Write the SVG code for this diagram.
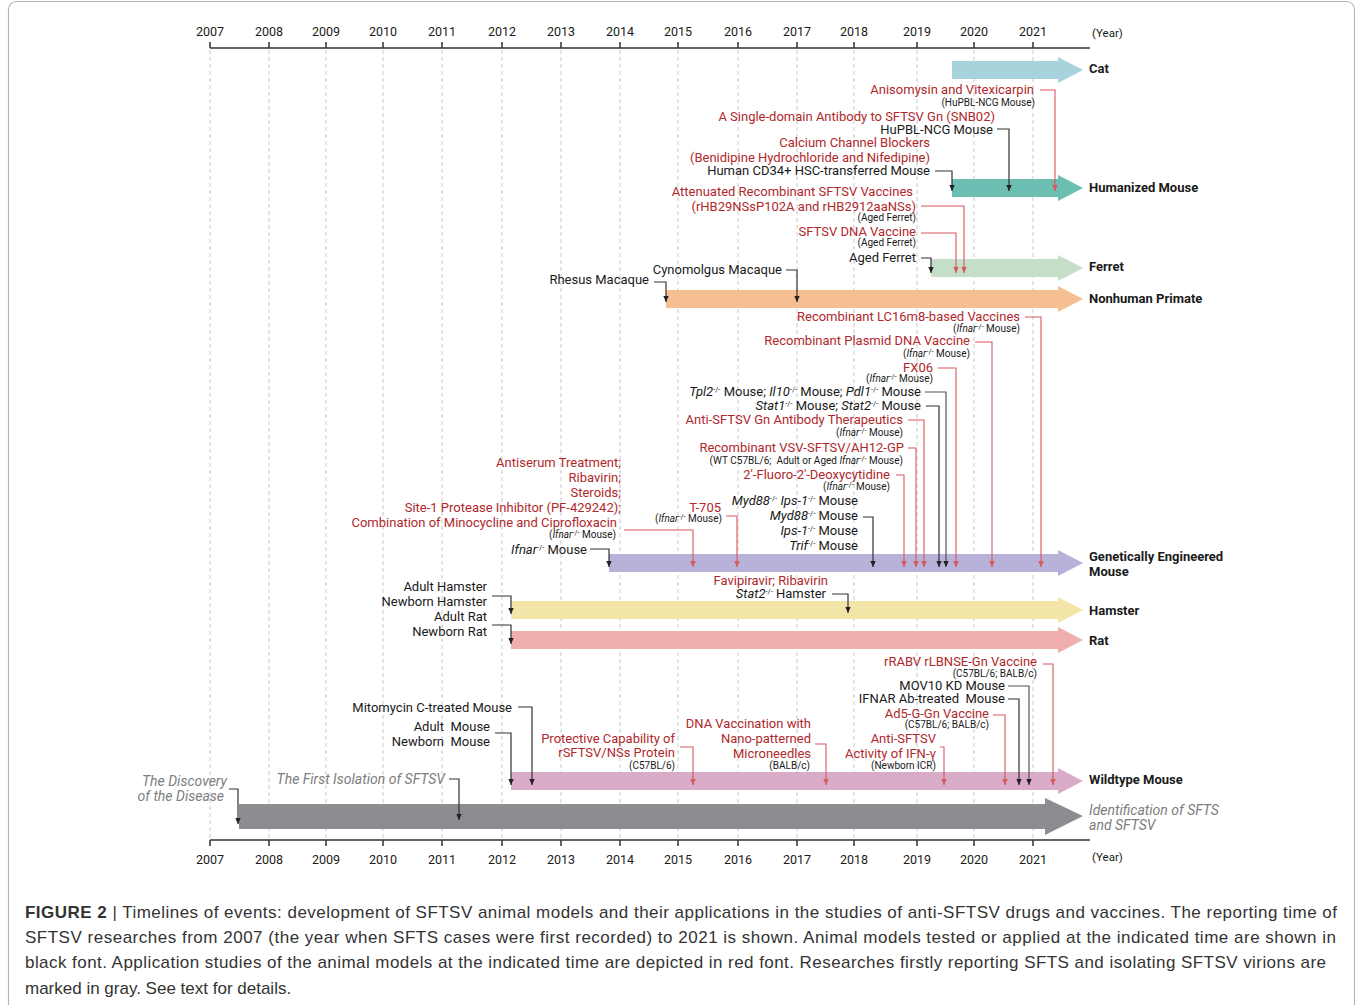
<svg xmlns="http://www.w3.org/2000/svg" width="1358" height="1005" viewBox="0 0 1358 1005">
<style>
.t{font-family:Roboto,'Liberation Sans',sans-serif;font-size:13px;fill:#1a1a1a}
.r{fill:#b0282c}
.s{font-size:10px}
.e{text-anchor:end}
.m{text-anchor:middle}
.y{font-size:12.5px}
.i{font-style:italic}
.g{fill:#7d7d7d;font-style:italic;font-size:14px}
.b{font-weight:bold}
.sup{font-size:7.5px}
.cr{fill:none;stroke:#d8585c;stroke-width:1.1;marker-end:url(#mr)}
.ck{fill:none;stroke:#333;stroke-width:1.2;marker-end:url(#mk)}
.grid{stroke:#c8c8c8;stroke-width:1;stroke-dasharray:4 3}
.ax{stroke:#333;stroke-width:1.5;fill:none}
.cap{font-family:'Liberation Sans',Arial,sans-serif;font-size:17px;fill:#333}
</style>
<defs>
<marker id="mr" viewBox="0 0 6 6" refX="6" refY="3" markerWidth="6" markerHeight="6" markerUnits="userSpaceOnUse" orient="auto"><path d="M0,0.3 L6,3 L0,5.7z" fill="#d8585c"/></marker>
<marker id="mk" viewBox="0 0 6 6" refX="6" refY="3" markerWidth="6" markerHeight="6" markerUnits="userSpaceOnUse" orient="auto"><path d="M0,0.3 L6,3 L0,5.7z" fill="#222"/></marker>
</defs>
<rect x="0" y="0" width="1358" height="1005" fill="#fff"/>
<rect x="8.5" y="1.5" width="1346" height="1015" rx="8" fill="none" stroke="#b5b5b5" stroke-width="1.2"/>

<g id="grid">
<line class="grid" x1="210" y1="50" x2="210" y2="838"/>
<line class="grid" x1="269" y1="50" x2="269" y2="838"/>
<line class="grid" x1="326" y1="50" x2="326" y2="838"/>
<line class="grid" x1="383" y1="50" x2="383" y2="838"/>
<line class="grid" x1="442" y1="50" x2="442" y2="838"/>
<line class="grid" x1="502" y1="50" x2="502" y2="838"/>
<line class="grid" x1="561" y1="50" x2="561" y2="838"/>
<line class="grid" x1="620" y1="50" x2="620" y2="838"/>
<line class="grid" x1="678" y1="50" x2="678" y2="838"/>
<line class="grid" x1="738" y1="50" x2="738" y2="838"/>
<line class="grid" x1="797" y1="50" x2="797" y2="838"/>
<line class="grid" x1="854" y1="50" x2="854" y2="838"/>
<line class="grid" x1="917" y1="50" x2="917" y2="838"/>
<line class="grid" x1="974" y1="50" x2="974" y2="838"/>
<line class="grid" x1="1033" y1="50" x2="1033" y2="838"/>
</g>

<g id="axis-top">
<path class="ax" d="M210,48 H1090 M210,42 V48 M269,42 V48 M326,42 V48 M383,42 V48 M442,42 V48 M502,42 V48 M561,42 V48 M620,42 V48 M678,42 V48 M738,42 V48 M797,42 V48 M854,42 V48 M917,42 V48 M974,42 V48 M1033,42 V48"/>
<g class="t m y">
<text x="210" y="36">2007</text><text x="269" y="36">2008</text><text x="326" y="36">2009</text><text x="383" y="36">2010</text><text x="442" y="36">2011</text><text x="502" y="36">2012</text><text x="561" y="36">2013</text><text x="620" y="36">2014</text><text x="678" y="36">2015</text><text x="738" y="36">2016</text><text x="797" y="36">2017</text><text x="854" y="36">2018</text><text x="917" y="36">2019</text><text x="974" y="36">2020</text><text x="1033" y="36">2021</text>
</g>
<text class="t" x="1092" y="37" style="font-size:11.5px">(Year)</text>
</g>

<g id="axis-bottom">
<path class="ax" d="M210,840 H1090 M210,840 V846 M269,840 V846 M326,840 V846 M383,840 V846 M442,840 V846 M502,840 V846 M561,840 V846 M620,840 V846 M678,840 V846 M738,840 V846 M797,840 V846 M854,840 V846 M917,840 V846 M974,840 V846 M1033,840 V846"/>
<g class="t m y">
<text x="210" y="864">2007</text><text x="269" y="864">2008</text><text x="326" y="864">2009</text><text x="383" y="864">2010</text><text x="442" y="864">2011</text><text x="502" y="864">2012</text><text x="561" y="864">2013</text><text x="620" y="864">2014</text><text x="678" y="864">2015</text><text x="738" y="864">2016</text><text x="797" y="864">2017</text><text x="854" y="864">2018</text><text x="917" y="864">2019</text><text x="974" y="864">2020</text><text x="1033" y="864">2021</text>
</g>
<text class="t" x="1092" y="861" style="font-size:11.5px">(Year)</text>
</g>

<g id="band-cat"><polygon points="952,61 1058,61 1058,57 1083,70 1058,83 1058,79 952,79" fill="#a9d3dc"/><text class="t b" x="1089" y="73">Cat</text></g>
<g id="band-humanized"><polygon points="952,179 1058,179 1058,175 1083,188 1058,201 1058,197 952,197" fill="#6cbdb2"/><text class="t b" x="1089" y="192">Humanized Mouse</text></g>
<g id="band-ferret"><polygon points="931,259 1058,259 1058,255 1083,268 1058,281 1058,277 931,277" fill="#c5dec7"/><text class="t b" x="1089" y="271">Ferret</text></g>
<g id="band-nhp"><polygon points="666,290 1058,290 1058,286 1083,299 1058,312 1058,308 666,308" fill="#f5bf91"/><text class="t b" x="1089" y="303">Nonhuman Primate</text></g>
<g id="band-gem"><polygon points="609,554 1058,554 1058,550 1083,563 1058,576 1058,572 609,572" fill="#b8b1d9"/><text class="t b" x="1089" y="561">Genetically Engineered</text><text class="t b" x="1089" y="576">Mouse</text></g>
<g id="band-hamster"><polygon points="511,601 1058,601 1058,597 1083,610 1058,623 1058,619 511,619" fill="#f3e4a7"/><text class="t b" x="1089" y="615">Hamster</text></g>
<g id="band-rat"><polygon points="511,631 1058,631 1058,627 1083,640 1058,653 1058,649 511,649" fill="#eeaeae"/><text class="t b" x="1089" y="645">Rat</text></g>
<g id="band-wildtype"><polygon points="511,772 1058,772 1058,768 1083,781 1058,794 1058,790 511,790" fill="#d8abc9"/><text class="t b" x="1089" y="784">Wildtype Mouse</text></g>
<g id="band-sfts"><polygon points="239,804 1045,804 1045,798 1083,816 1045,835 1045,829 239,829" fill="#8d8c91"/><text class="t g" x="1089" y="815">Identification of SFTS</text><text class="t g" x="1089" y="830">and SFTSV</text></g>

<g id="connectors">
<path class="cr" d="M1040,90 H1055 V191"/>
<path class="ck" d="M997,129 H1009 V191"/>
<path class="ck" d="M935,171 H952 V191"/>
<path class="cr" d="M921,206 H964 V273"/>
<path class="cr" d="M921,233 H956 V273"/>
<path class="ck" d="M921,258 H931 V273"/>
<path class="ck" d="M786,270 H797 V302"/>
<path class="ck" d="M654,282 H666 V302"/>
<path class="cr" d="M1025,317 H1041 V567"/>
<path class="cr" d="M975,342 H992 V567"/>
<path class="cr" d="M938,368 H956 V567"/>
<path class="ck" d="M925,392 H946 V567" style="stroke:#555"/>
<path class="ck" d="M926,406 H939 V567"/>
<path class="cr" d="M908,420 H924 V567"/>
<path class="cr" d="M908,448 H916 V567"/>
<path class="cr" d="M896,475 H904 V567"/>
<path class="ck" d="M863,517 H873 V567"/>
<path class="cr" d="M726,516 H737 V567"/>
<path class="cr" d="M624,530 H693 V567"/>
<path class="ck" d="M590,549 H609 V567"/>
<path class="ck" d="M832,594 H848 V613"/>
<path class="ck" d="M492,596 H511 V614"/>
<path class="ck" d="M492,625 H511 V644"/>
<path class="cr" d="M1043,664 H1053 V785"/>
<path class="ck" d="M1008,686 H1029 V785" style="stroke:#555"/>
<path class="ck" d="M1008,699 H1019 V785"/>
<path class="cr" d="M993,715 H1005 V785"/>
<path class="cr" d="M940,747 H944 V785"/>
<path class="cr" d="M815,744 H826 V785"/>
<path class="cr" d="M680,747 H693 V785"/>
<path class="ck" d="M518,707 H532 V785"/>
<path class="ck" d="M495,733 H511 V785"/>
<path class="ck" d="M229,789 H238 V824"/>
<path class="ck" d="M449,779 H459 V820"/>
</g>

<g id="n-anisomysin"><text class="t r e" x="1034" y="94">Anisomysin and Vitexicarpin</text><text class="t s e" x="1035" y="106">(HuPBL-NCG Mouse)</text></g>
<g id="n-snb02"><text class="t r e" x="995" y="121">A Single-domain Antibody to SFTSV Gn (SNB02)</text></g>
<g id="n-hupbl"><text class="t e" x="993" y="134">HuPBL-NCG Mouse</text></g>
<g id="n-ccb"><text class="t r e" x="930" y="147">Calcium Channel Blockers</text><text class="t r e" x="930" y="162">(Benidipine Hydrochloride and Nifedipine)</text></g>
<g id="n-cd34"><text class="t e" x="930" y="175">Human CD34+ HSC-transferred Mouse</text></g>
<g id="n-attenuated"><text class="t r e" x="913" y="196">Attenuated Recombinant SFTSV Vaccines</text><text class="t r e" x="916" y="211">(rHB29NSsP102A and rHB2912aaNSs)</text><text class="t s e" x="916" y="221">(Aged Ferret)</text></g>
<g id="n-dnavaccine"><text class="t r e" x="916" y="236">SFTSV DNA Vaccine</text><text class="t s e" x="916" y="246">(Aged Ferret)</text></g>
<g id="n-agedferret"><text class="t e" x="916" y="262">Aged Ferret</text></g>
<g id="n-cynomolgus"><text class="t e" x="782" y="274">Cynomolgus Macaque</text></g>
<g id="n-rhesus"><text class="t e" x="649" y="284">Rhesus Macaque</text></g>

<g id="n-lc16m8"><text class="t r e" x="1020" y="321">Recombinant LC16m8-based Vaccines</text><text class="t s e" x="1020" y="332">(<tspan class="i">Ifnar</tspan><tspan class="sup" dy="-3">-/-</tspan><tspan dy="3"> Mouse)</tspan></text></g>
<g id="n-plasmid"><text class="t r e" x="970" y="345">Recombinant Plasmid DNA Vaccine</text><text class="t s e" x="970" y="357">(<tspan class="i">Ifnar</tspan><tspan class="sup" dy="-3">-/-</tspan><tspan dy="3"> Mouse)</tspan></text></g>
<g id="n-fx06"><text class="t r e" x="933" y="372">FX06</text><text class="t s e" x="933" y="382">(<tspan class="i">Ifnar</tspan><tspan class="sup" dy="-3">-/-</tspan><tspan dy="3"> Mouse)</tspan></text></g>
<g id="n-tpl2"><text class="t e" x="921" y="396"><tspan class="i">Tpl2</tspan><tspan class="sup" dy="-4">-/-</tspan><tspan dy="4"> Mouse; </tspan><tspan class="i">Il10</tspan><tspan class="sup" dy="-4">-/-</tspan><tspan dy="4"> Mouse; </tspan><tspan class="i">Pdl1</tspan><tspan class="sup" dy="-4">-/-</tspan><tspan dy="4"> Mouse</tspan></text></g>
<g id="n-stat"><text class="t e" x="921" y="410"><tspan class="i">Stat1</tspan><tspan class="sup" dy="-4">-/-</tspan><tspan dy="4"> Mouse; </tspan><tspan class="i">Stat2</tspan><tspan class="sup" dy="-4">-/-</tspan><tspan dy="4"> Mouse</tspan></text></g>
<g id="n-antign"><text class="t r e" x="903" y="424">Anti-SFTSV Gn Antibody Therapeutics</text><text class="t s e" x="903" y="436">(<tspan class="i">Ifnar</tspan><tspan class="sup" dy="-3">-/-</tspan><tspan dy="3"> Mouse)</tspan></text></g>
<g id="n-vsv"><text class="t r e" x="904" y="452">Recombinant VSV-SFTSV/AH12-GP</text><text class="t s e" x="903" y="464" xml:space="preserve">(WT C57BL/6;  Adult or Aged <tspan class="i">Ifnar</tspan><tspan class="sup" dy="-3">-/-</tspan><tspan dy="3"> Mouse)</tspan></text></g>
<g id="n-fluoro"><text class="t r e" x="890" y="479">2′-Fluoro-2′-Deoxycytidine</text><text class="t s e" x="890" y="490">(<tspan class="i">Ifnar</tspan><tspan class="sup" dy="-3">-/-</tspan><tspan dy="3"> Mouse)</tspan></text></g>
<g id="n-myd88"><text class="t e" x="858" y="505"><tspan class="i">Myd88</tspan><tspan class="sup" dy="-4">-/-</tspan><tspan dy="4"> </tspan><tspan class="i">Ips-1</tspan><tspan class="sup" dy="-4">-/-</tspan><tspan dy="4"> Mouse</tspan></text>
<text class="t e" x="858" y="520"><tspan class="i">Myd88</tspan><tspan class="sup" dy="-4">-/-</tspan><tspan dy="4"> Mouse</tspan></text>
<text class="t e" x="858" y="535"><tspan class="i">Ips-1</tspan><tspan class="sup" dy="-4">-/-</tspan><tspan dy="4"> Mouse</tspan></text>
<text class="t e" x="858" y="550"><tspan class="i">Trif</tspan><tspan class="sup" dy="-4">-/-</tspan><tspan dy="4"> Mouse</tspan></text></g>
<g id="n-t705"><text class="t r e" x="721" y="512">T-705</text><text class="t s e" x="722" y="522">(<tspan class="i">Ifnar</tspan><tspan class="sup" dy="-3">-/-</tspan><tspan dy="3"> Mouse)</tspan></text></g>
<g id="n-antiserum"><text class="t r e" x="621" y="467">Antiserum Treatment;</text><text class="t r e" x="621" y="482">Ribavirin;</text><text class="t r e" x="621" y="497">Steroids;</text><text class="t r e" x="621" y="512">Site-1 Protease Inhibitor (PF-429242);</text><text class="t r e" x="617" y="527">Combination of Minocycline and Ciprofloxacin</text><text class="t s e" x="616" y="538">(<tspan class="i">Ifnar</tspan><tspan class="sup" dy="-3">-/-</tspan><tspan dy="3"> Mouse)</tspan></text></g>
<g id="n-ifnar"><text class="t e" x="587" y="554"><tspan class="i">Ifnar</tspan><tspan class="sup" dy="-4">-/-</tspan><tspan dy="4"> Mouse</tspan></text></g>

<g id="n-favipiravir"><text class="t r e" x="828" y="585">Favipiravir; Ribavirin</text><text class="t e" x="826" y="598"><tspan class="i">Stat2</tspan><tspan class="sup" dy="-4">-/-</tspan><tspan dy="4"> Hamster</tspan></text></g>
<g id="n-hamster"><text class="t e" x="487" y="591">Adult Hamster</text><text class="t e" x="487" y="606">Newborn Hamster</text></g>
<g id="n-rat"><text class="t e" x="487" y="621">Adult Rat</text><text class="t e" x="487" y="636">Newborn Rat</text></g>

<g id="n-rrabv"><text class="t r e" x="1037" y="666">rRABV rLBNSE-Gn Vaccine</text><text class="t s e" x="1037" y="677">(C57BL/6; BALB/c)</text></g>
<g id="n-mov10"><text class="t e" x="1005" y="690">MOV10 KD Mouse</text></g>
<g id="n-ifnarab"><text class="t e" x="1005" y="703" xml:space="preserve">IFNAR Ab-treated  Mouse</text></g>
<g id="n-ad5"><text class="t r e" x="989" y="718">Ad5-G-Gn Vaccine</text><text class="t s e" x="989" y="728">(C57BL/6; BALB/c)</text></g>
<g id="n-ifng"><text class="t r e" x="936" y="743">Anti-SFTSV</text><text class="t r e" x="936" y="758">Activity of IFN-γ</text><text class="t s e" x="936" y="769">(Newborn ICR)</text></g>
<g id="n-microneedles"><text class="t r e" x="811" y="728">DNA Vaccination with</text><text class="t r e" x="811" y="743">Nano-patterned</text><text class="t r e" x="811" y="758">Microneedles</text><text class="t s e" x="810" y="769">(BALB/c)</text></g>
<g id="n-nss"><text class="t r e" x="675" y="743">Protective Capability of</text><text class="t r e" x="675" y="757">rSFTSV/NSs Protein</text><text class="t s e" x="675" y="769">(C57BL/6)</text></g>
<g id="n-mitomycin"><text class="t e" x="512" y="712">Mitomycin C-treated Mouse</text></g>
<g id="n-adultmouse"><text class="t e" x="490" y="731" xml:space="preserve">Adult  Mouse</text><text class="t e" x="490" y="746" xml:space="preserve">Newborn  Mouse</text></g>

<g id="n-discovery"><text class="t g e" x="227" y="786">The Discovery</text><text class="t g e" x="224" y="801">of the Disease</text></g>
<g id="n-isolation"><text class="t g e" x="445" y="784">The First Isolation of SFTSV</text></g>

<g id="caption">
<text class="cap" x="25" y="918" textLength="1312" lengthAdjust="spacing"><tspan font-weight="bold">FIGURE 2</tspan> | Timelines of events: development of SFTSV animal models and their applications in the studies of anti-SFTSV drugs and vaccines. The reporting time of</text>
<text class="cap" x="25" y="943" textLength="1311" lengthAdjust="spacing">SFTSV researches from 2007 (the year when SFTS cases were first recorded) to 2021 is shown. Animal models tested or applied at the indicated time are shown in</text>
<text class="cap" x="25" y="968" textLength="1301" lengthAdjust="spacing">black font. Application studies of the animal models at the indicated time are depicted in red font. Researches firstly reporting SFTS and isolating SFTSV virions are</text>
<text class="cap" x="25" y="994">marked in gray. See text for details.</text>
</g>
</svg>
